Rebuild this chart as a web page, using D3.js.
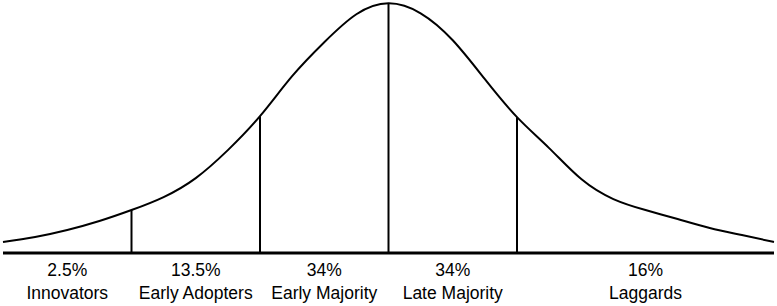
<!DOCTYPE html>
<html>
<head>
<meta charset="utf-8">
<script src="https://cdn.jsdelivr.net/npm/d3@7"></script>
<style>
  body { margin: 0; background: #fff; }
  svg { display: block; }
  .label { font-family: "Liberation Sans", Arial, sans-serif; font-size: 17.5px; fill: #000; }
</style>
</head>
<body>
<script>
// Curve: position in standard deviations, height in % of the peak
var sigmas = [-3, -2.75, -2.5, -2.25, -2, -1.75, -1.5, -1.25, -1, -0.75, -0.5, -0.25, 0,
              0.25, 0.5, 0.75, 1, 1.25, 1.5, 1.75, 2, 2.25, 2.5, 2.75, 3];
var heights = [4.4, 6.4, 9.2, 12.8, 17.2, 22.4, 30, 41.2, 54.8, 70.8, 84.4, 95.6, 100,
               96, 85.2, 69.6, 54.4, 42, 29.6, 21.6, 17.2, 13.6, 10, 7.2, 4.4];

// Adopter groups
var bounds = [-3, -2, -1, 0, 1, 3];
var shares = ['2.5%', '13.5%', '34%', '34%', '16%'];
var groups = ['Innovators', 'Early Adopters', 'Early Majority', 'Late Majority', 'Laggards'];

var width = 777, height = 306;

var svg = d3.select('body').append('svg').attr('width', width).attr('height', height);

var x = d3.scaleLinear().domain([-3, 3]).range([3, 774]);
var y = d3.scaleLinear().domain([0, 100]).range([253, 3.3]);

var points = sigmas.map(function (s, i) { return [s, heights[i]]; });

var line = d3.line()
  .x(function (d) { return x(d[0]); })
  .y(function (d) { return y(d[1]); })
  .curve(d3.curveNatural);

// Bell curve
svg.append('path')
  .datum(points)
  .attr('d', line)
  .attr('fill', 'none')
  .attr('stroke', '#000')
  .attr('stroke-width', 2);

// Dividers up to the curve
svg.selectAll('line.divider')
  .data(bounds.slice(1, -1))
  .enter()
  .append('line')
  .attr('class', 'divider')
  .attr('x1', function (d) { return x(d); })
  .attr('x2', function (d) { return x(d); })
  .attr('y1', y(0))
  .attr('y2', function (d) { return y(heights[sigmas.indexOf(d)]); })
  .attr('stroke', '#000')
  .attr('stroke-width', 2);

// Baseline
svg.append('line')
  .attr('x1', x(-3))
  .attr('x2', x(3))
  .attr('y1', y(0))
  .attr('y2', y(0))
  .attr('stroke', '#000')
  .attr('stroke-width', 3);

// Labels
var lab = svg.selectAll('g.lab')
  .data(groups)
  .enter()
  .append('g')
  .attr('class', 'lab')
  .attr('transform', function (d, i) {
    return 'translate(' + (x(bounds[i]) + x(bounds[i + 1])) / 2 + ',0)';
  });

lab.append('text')
  .attr('class', 'label')
  .attr('text-anchor', 'middle')
  .attr('y', 276)
  .text(function (d, i) { return shares[i]; });

lab.append('text')
  .attr('class', 'label')
  .attr('text-anchor', 'middle')
  .attr('y', 299)
  .text(function (d) { return d; });
</script>
</body>
</html>
